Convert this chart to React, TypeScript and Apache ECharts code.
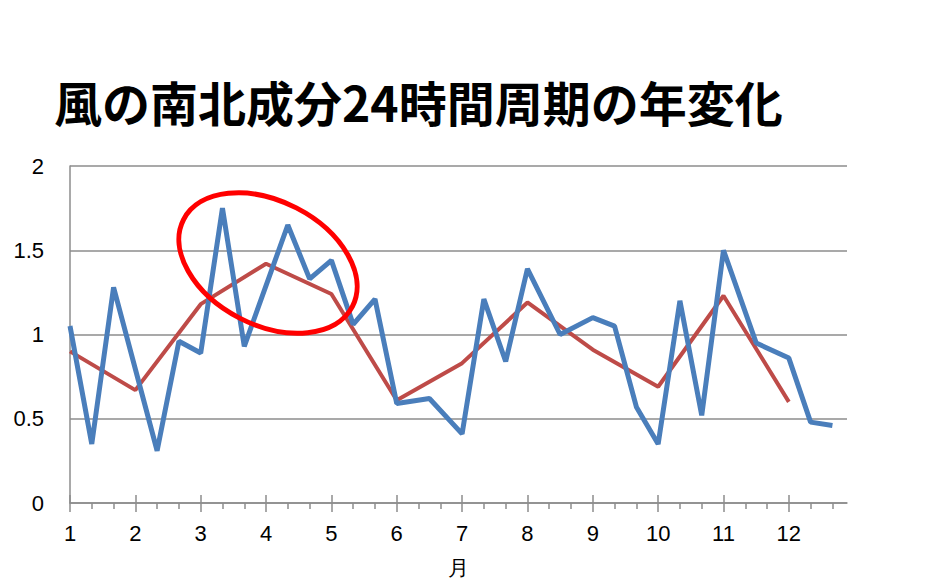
import React, { useEffect, useRef } from "react";
import * as echarts from "echarts";

const titleText = "風の南北成分24時間周期の年変化";
const xAxisName = "月";
const monthTicks = [1, 2, 3, 4, 5, 6, 7, 8, 9, 10, 11, 12];
const blueMonths = [
  1, 1.333, 1.667, 2.333, 2.667, 3, 3.333, 3.667, 4.333, 4.667, 5, 5.333, 5.667,
  6, 6.5, 7, 7.333, 7.667, 8, 8.5, 9, 9.333, 9.667, 10, 10.333, 10.667, 11, 11.5,
  12, 12.333, 12.667,
];
const blueValues = [
  1.05, 0.35, 1.28, 0.31, 0.96, 0.89, 1.75, 0.93, 1.65, 1.33, 1.44, 1.06, 1.21,
  0.59, 0.62, 0.41, 1.21, 0.84, 1.39, 1.0, 1.1, 1.05, 0.57, 0.35, 1.2, 0.52, 1.5,
  0.95, 0.86, 0.48, 0.46,
];
const redMonths = [1, 2, 3, 4, 5, 6, 7, 8, 9, 10, 11, 12];
const redValues = [0.9, 0.67, 1.18, 1.42, 1.24, 0.61, 0.83, 1.19, 0.91, 0.69, 1.23, 0.6];

const minorTicks = monthTicks.flatMap((m) => [m + 1 / 3, m + 2 / 3]);

export default function App() {
  const ref = useRef<HTMLDivElement>(null);
  useEffect(() => {
    if (!ref.current) return;
    const chart = echarts.init(ref.current, null, { renderer: "svg" });
    const axisColor = "#8c8c8c";
    const labelFont = "Liberation Sans";
    const xMin = 1;
    const xMax = 12.89;
    chart.setOption({
      animation: false,
      backgroundColor: "#ffffff",
      title: {
        text: titleText,
        left: 49,
        top: 72,
        textStyle: {
          fontFamily: "Noto Sans CJK JP",
          fontWeight: "bold",
          fontSize: 48,
          color: "#000000",
        },
      },
      grid: {
        left: 70,
        right: 88,
        top: 166,
        bottom: 77,
        containLabel: false,
        outerBoundsMode: "none",
      },
      xAxis: [
        {
          type: "value",
          position: "bottom",
          min: xMin,
          max: xMax,
          name: xAxisName,
          nameLocation: "middle",
          nameGap: 54,
          nameTextStyle: { fontFamily: labelFont, fontSize: 21, color: "#000" },
          axisLine: { show: true, lineStyle: { color: axisColor, width: 1.5 } },
          axisTick: {
            show: true,
            customValues: monthTicks,
            length: 9,
            inside: false,
            lineStyle: { color: axisColor, width: 1.5 },
          },
          axisLabel: {
            customValues: monthTicks,
            fontFamily: labelFont,
            fontSize: 22,
            color: "#000",
            margin: 19,
          },
          splitLine: { show: false },
        },
        {
          type: "value",
          position: "bottom",
          min: xMin,
          max: xMax,
          axisLine: { show: false },
          axisTick: {
            show: true,
            customValues: monthTicks,
            length: 8,
            inside: true,
            lineStyle: { color: axisColor, width: 1.5 },
          },
          axisLabel: { show: false },
          splitLine: { show: false },
        },
        {
          type: "value",
          position: "bottom",
          min: xMin,
          max: xMax,
          axisLine: { show: false },
          axisTick: {
            show: true,
            customValues: minorTicks,
            length: 6,
            inside: false,
            lineStyle: { color: axisColor, width: 1.5 },
          },
          axisLabel: { show: false },
          splitLine: { show: false },
        },
      ],
      yAxis: {
        type: "value",
        min: 0,
        max: 2,
        interval: 0.5,
        axisLine: { show: true, lineStyle: { color: axisColor, width: 1.5 } },
        axisTick: { show: false },
        axisLabel: {
          fontFamily: labelFont,
          fontSize: 22,
          color: "#000",
          margin: 26,
        },
        splitLine: { show: true, lineStyle: { color: axisColor, width: 1.5 } },
      },
      series: [
        {
          type: "line",
          xAxisIndex: 0,
          data: redMonths.map((m, i) => [m, redValues[i]]),
          symbol: "none",
          lineStyle: { color: "#be4b48", width: 4 },
          z: 2,
        },
        {
          type: "line",
          xAxisIndex: 0,
          data: blueMonths.map((m, i) => [m, blueValues[i]]),
          symbol: "none",
          lineStyle: { color: "#4a7ebb", width: 5 },
          z: 3,
        },
      ],
      graphic: [
        {
          type: "ellipse",
          x: 268,
          y: 263,
          rotation: -0.475,
          shape: { cx: 0, cy: 0, rx: 95, ry: 62 },
          style: { fill: "none", stroke: "#ff0000", lineWidth: 5 },
          z: 100,
        },
      ],
    });
    return () => chart.dispose();
  }, []);
  return (
    <div
      ref={ref}
      style={{ position: "fixed", left: 0, top: 0, width: 935, height: 580, background: "#fff" }}
    />
  );
}
